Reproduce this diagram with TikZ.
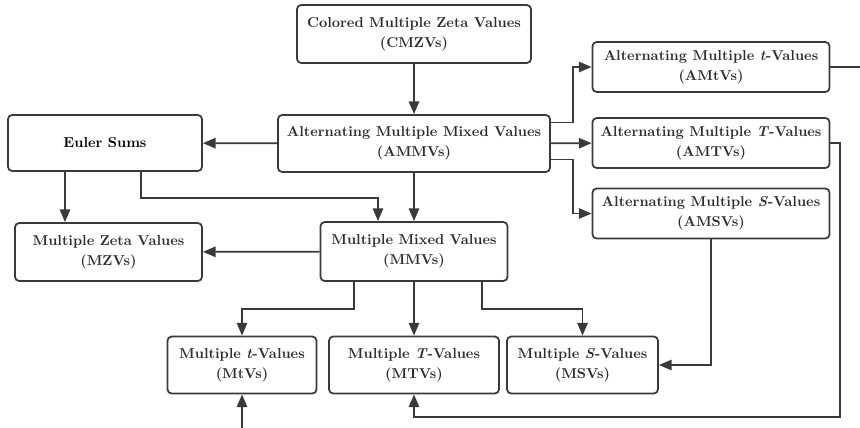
\documentclass[tikz,border=0pt]{standalone}
\usepackage{tikz}
\usetikzlibrary{arrows.meta}
\definecolor{linegray}{RGB}{58,58,58}
\definecolor{txtgray}{RGB}{45,45,45}

\begin{document}
\begin{tikzpicture}[x=0.025cm, y=-0.025cm, line width=1.25pt, color=linegray,
	box/.style={draw=linegray, rounded corners=3pt, inner sep=0pt, align=center, text=txtgray, font={\bfseries\fontsize{10.2}{14}\selectfont}},
	wide/.style={box, minimum width=5.925cm, minimum height=1.25cm},
	arr/.style={-{Triangle[length=0.32cm,width=0.26cm]}}]
	\useasboundingbox (0,0) rectangle (860,427);
	\node[box, minimum width=5.85cm, minimum height=1.45cm] (cmzv) at (414,34) {Colored Multiple Zeta Values\\(CMZVs)};
	\node[box, minimum width=6.8cm, minimum height=1.425cm] (ammv) at (414,143.5) {Alternating Multiple Mixed Values\\(AMMVs)};
	\node[box, minimum width=4.85cm, minimum height=1.4cm, text=black] (euler) at (105,143) {Euler Sums};
	\node[wide] (amtv) at (711,67) {Alternating Multiple \textit{t}-Values\\(AMtVs)};
	\node[wide] (amTv) at (711,143) {Alternating Multiple \textit{T}-Values\\(AMTVs)};
	\node[wide] (amsv) at (711,213.5) {Alternating Multiple \textit{S}-Values\\(AMSVs)};
	\node[box, minimum width=4.675cm, minimum height=1.45cm] (mzv) at (108.5,252) {Multiple Zeta Values\\(MZVs)};
	\node[box, minimum width=4.675cm, minimum height=1.475cm] (mmv) at (414,251.5) {Multiple Mixed Values\\(MMVs)};
	\node[box, minimum width=3.725cm, minimum height=1.425cm] (mtv) at (242,365) {Multiple \textit{t}-Values\\(MtVs)};
	\node[box, minimum width=4.25cm, minimum height=1.425cm] (mTv) at (414,365) {Multiple \textit{T}-Values\\(MTVs)};
	\node[box, minimum width=3.775cm, minimum height=1.425cm] (msv) at (582.5,365) {Multiple \textit{S}-Values\\(MSVs)};

	\coordinate (eR) at (862,67);
	\coordinate (eB) at (242,429);
	\coordinate (c1) at (840,417);
	\coordinate (k1) at ([xshift=-1cm]euler.south);
	\coordinate (k2) at ([xshift=0.9cm]euler.south);
	\coordinate (k3) at ([xshift=-0.9cm]mmv.north);
	\coordinate (k4) at ([xshift=-1.5cm]mmv.south);
	\coordinate (k5) at ([xshift=1.7cm]mmv.south);

	\draw[arr] (cmzv) -- (ammv);
	\draw[arr] (ammv) -- (euler);
	\draw[arr] ([yshift=0.525cm]ammv.east) -- ++(22,0) |- (amtv);
	\draw[arr] (ammv) -- (amTv);
	\draw[arr] ([yshift=-0.4cm]ammv.east) -- ++(22,0) |- (amsv);
	\draw (amtv) -- (eR);
	\draw[arr] (amTv) -| (c1) -| (mTv);
	\draw[arr] (amsv) |- (msv);
	\draw[arr] (k1) -- (k1 |- mzv.north);
	\draw[arr] (k2) -- ++(0,26) -| (k3);
	\draw[arr] (ammv) -- (mmv);
	\draw[arr] (mmv) -- (mzv);
	\draw[arr] (k4) -- ++(0,27) -| (mtv);
	\draw[arr] (mmv) -- (mTv);
	\draw[arr] (k5) -- ++(0,27) -| (msv);
	\draw[arr] (eB) -- (mtv);
\end{tikzpicture}
\end{document}
